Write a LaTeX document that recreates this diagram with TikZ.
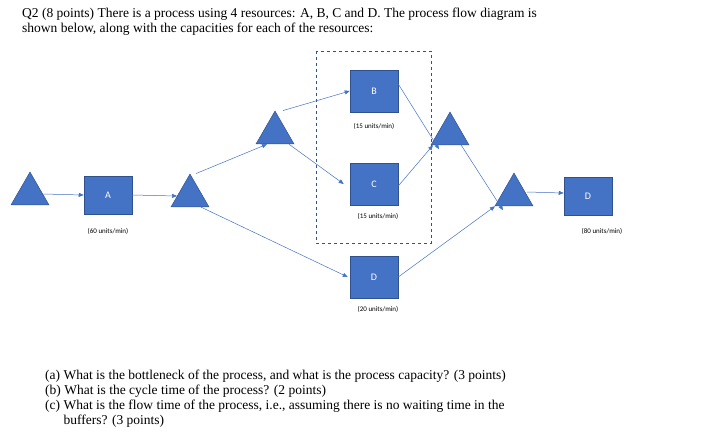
\documentclass[tikz,border=0pt]{standalone}
\usepackage{fontspec}
\setmainfont{Liberation Serif}
\newfontfamily\calfnt{Carlito}
\usetikzlibrary{shapes.geometric,arrows.meta}
\definecolor{bl}{HTML}{4472C4}
\definecolor{dbl}{HTML}{2F528F}
\tikzset{
 tri/.style={isosceles triangle,isosceles triangle apex angle=60,shape border rotate=90,fill=bl,draw=dbl,line width=0.5pt,minimum width=38pt,inner sep=0pt},
 res/.style={rectangle,fill=bl,draw=dbl,line width=0.5pt,minimum width=48pt,minimum height=42pt,text=white,font=\calfnt\fontsize{10}{12}\selectfont},
 caplbl/.style={font=\calfnt\fontsize{7}{8}\selectfont},
 flow/.style={draw=bl,line width=0.5pt,-{Triangle[length=5pt,width=4pt]}},
 txt/.style={anchor=west,inner sep=0pt,font=\fontsize{13.5}{15}\selectfont,align=left}
}
\begin{document}
\begin{tikzpicture}[x=1pt,y=-1pt]
\useasboundingbox (0,0) rectangle (702,440);
\node[txt,anchor=north west] (q) at (22,8) {Q2 (8 points) There is a process using 4 resources: A, B, C and D. The process flow diagram is\\shown below, along with the capacities for each of the resources:};
\draw[dbl,dashed,line width=0.7pt] (316,51) rectangle (431,243);
\node[tri] (t1) at (30,194) {};
\node[res,minimum height=38pt] (A) at (108,195) {A};
\node[caplbl] (la) at (108,231) {(60 units/min)};
\node[tri] (t2) at (190,196) {};
\node[tri] (t3) at (275,133) {};
\node[res] (B) at (374,91) {B};
\node[caplbl] (lb) at (374,126) {(15 units/min)};
\node[res] (C) at (374,184) {C};
\node[caplbl] (lc) at (378,216) {(15 units/min)};
\node[res] (D) at (374,277) {D};
\node[caplbl] (ld) at (378,309) {(20 units/min)};
\node[tri] (t4) at (450,134) {};
\node[tri] (t5) at (514,195) {};
\node[res,minimum height=38pt] (D2) at (588,196) {D};
\node[caplbl] (ld2) at (602,231) {(80 units/min)};
\draw[flow] (t1.east) -- (A.west);
\draw[flow] (A.east) -- (t2.west);
\draw[flow] ([xshift=6pt]t2.north) -- ([xshift=-8pt]t3.south);
\draw[flow] ([xshift=8pt]t3.north) -- (B.west);
\draw[flow] ([xshift=14pt]t3.south) -- ([xshift=-6pt]C.west);
\draw[flow] (t2.south east) -- ([xshift=-2pt]D.west);
\draw[flow] ([yshift=7pt]B.east) -- ([xshift=-11pt,yshift=-4pt]t4.south);
\draw[flow] ([yshift=-2pt]C.east) -- ([xshift=-17pt]t4.south);
\draw[flow] (t4.south east) -- ([xshift=-11pt,yshift=-4pt]t5.south);
\draw[flow] (D.east) -- ([xshift=-19pt]t5.south);
\draw[flow] ([yshift=3pt]t5.east) -- ([yshift=3pt]D2.west);
\node[txt,anchor=north west] (qs) at (45,370) {(a)\ What is the bottleneck of the process, and what is the process capacity? (3 points)\\(b)\ What is the cycle time of the process? (2 points)\\(c)\ What is the flow time of the process, i.e., assuming there is no waiting time in the\\\phantom{(c)\ }buffers? (3 points)};
\end{tikzpicture}
\end{document}
